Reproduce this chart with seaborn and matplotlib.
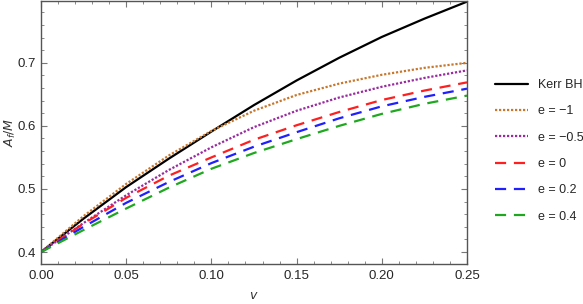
import numpy as np
import pandas as pd
import matplotlib
matplotlib.use("Agg")
import matplotlib.pyplot as plt
import seaborn as sns
from matplotlib.ticker import MultipleLocator

# values
v = [0.0, 0.025, 0.05, 0.075, 0.1, 0.125, 0.15, 0.175, 0.2, 0.225, 0.25]
kerr = [0.4, 0.453, 0.503, 0.548, 0.591, 0.633, 0.672, 0.708, 0.741, 0.770, 0.797]
e_m1 = [0.4, 0.457, 0.508, 0.553, 0.592, 0.624, 0.649, 0.667, 0.681, 0.692, 0.700]
e_m05 = [0.4, 0.446, 0.490, 0.530, 0.566, 0.598, 0.624, 0.645, 0.662, 0.676, 0.688]
e_0 = [0.4, 0.445, 0.486, 0.521, 0.550, 0.578, 0.601, 0.622, 0.641, 0.656, 0.669]
e_02 = [0.4, 0.440, 0.478, 0.511, 0.541, 0.567, 0.590, 0.612, 0.631, 0.646, 0.659]
e_04 = [0.4, 0.435, 0.469, 0.502, 0.532, 0.557, 0.579, 0.600, 0.619, 0.635, 0.648]

labels = ["Kerr BH", "e = \u22121", "e = \u22120.5", "e = 0", "e = 0.2", "e = 0.4"]
series = [kerr, e_m1, e_m05, e_0, e_02, e_04]

rows = []
for lab, vals in zip(labels, series):
    for x, y in zip(v, vals):
        rows.append({"v": x, "A": y, "curve": lab})
df = pd.DataFrame(rows)

palette = dict(zip(labels, ["black", "#c8782d", "#9a2aa0", "#ff1f1f", "#1f1fff", "#1fa81f"]))
dashes = dict(zip(labels, ["", (1, 0.8), (1, 0.8), (5, 3.5), (5, 3.5), (5, 3.5)]))

sns.set_style("ticks")
plt.rcParams["font.family"] = ["Liberation Sans", "DejaVu Sans"]
plt.rcParams["mathtext.fontset"] = "dejavusans"

fig = plt.figure(figsize=(5.83, 3.04), dpi=100)
ax = fig.add_axes([41 / 583, 1 - 264 / 304, 426 / 583, 263 / 304])

sns.lineplot(data=df, x="v", y="A", hue="curve", style="curve", palette=palette,
             dashes=dashes, linewidth=1.6, ax=ax, legend=True)

ax.set_xlim(0, 0.25)
ax.set_ylim(0.381, 0.798)
ax.xaxis.set_major_locator(MultipleLocator(0.05))
ax.xaxis.set_minor_locator(MultipleLocator(0.01))
ax.yaxis.set_major_locator(MultipleLocator(0.1))
ax.yaxis.set_minor_locator(MultipleLocator(0.02))
ax.xaxis.set_major_formatter(matplotlib.ticker.FormatStrFormatter("%.2f"))
ax.yaxis.set_major_formatter(matplotlib.ticker.FormatStrFormatter("%.1f"))
ax.tick_params(which="both", direction="in", top=True, right=True, color="#777777",
               labelsize=9.5, pad=4)
ax.tick_params(which="major", length=4, width=0.8)
ax.tick_params(which="minor", length=2, width=0.6)
for s in ax.spines.values():
    s.set_color("#555555")
    s.set_linewidth(1.0)

ax.set_xlabel("$v$", fontsize=9, labelpad=6, color="#333333")
ax.set_ylabel("$A_f/M$", fontsize=9, color="#333333")
ax.yaxis.set_label_coords(-0.054, 0.5)

handles, labs = ax.get_legend_handles_labels()
leg = ax.legend(handles, labs, loc="center left", bbox_to_anchor=(1.04, 0.43),
                frameon=False, fontsize=9, handlelength=2.6, labelspacing=1.15,
                handletextpad=0.8)

fig.savefig("out.png", dpi=100)
